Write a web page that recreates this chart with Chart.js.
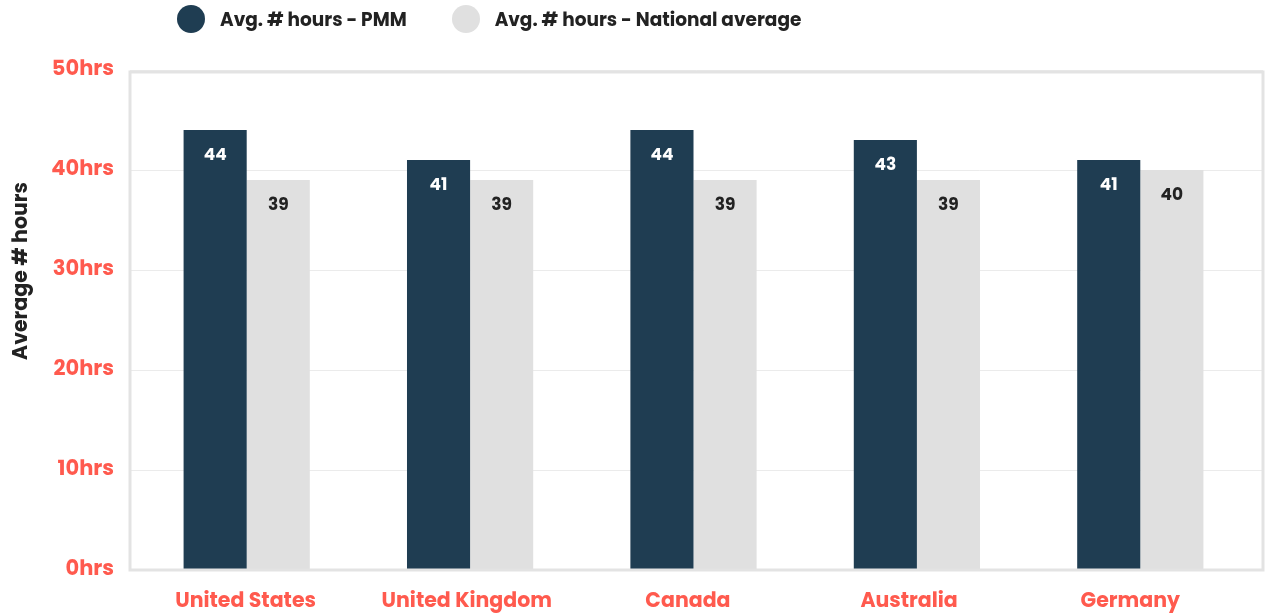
<!DOCTYPE html>
<html>
<head>
<meta charset="utf-8">
<script src="https://cdn.jsdelivr.net/npm/chart.js@4"></script>
<style>
  body { margin: 0; background: #fff; font-family: Poppins, Inter, sans-serif; }
  #wrap { position: relative; width: 1268px; height: 613px; }
  #legend { position: absolute; top: 5px; left: 177px; display: flex; align-items: center; font-weight: 700; font-size: 18.5px; color: #222; }
  .item { display: flex; align-items: center; margin-right: 45px; }
  .dot { width: 28px; height: 28px; border-radius: 50%; margin-right: 15px; }
</style>
</head>
<body>
<div id="wrap">
  <div id="legend"></div>
  <canvas id="chart"></canvas>
</div>
<script>
const categories = ['United States', 'United Kingdom', 'Canada', 'Australia', 'Germany'];
const pmmHours = [44, 41, 44, 43, 41];
const nationalHours = [39, 39, 39, 39, 40];
const seriesNames = ['Avg. # hours - PMM', 'Avg. # hours - National average'];
const tickValues = [0, 10, 20, 30, 40, 50];
const axisTitle = 'Average # hours';

const darkBlue = '#1f3d52';
const lightGray = '#e0e0e0';
const coral = '#ff5a4e';
const fontFamily = 'Poppins, Inter, sans-serif';

// simple legend above the chart
const legend = document.getElementById('legend');
[[seriesNames[0], darkBlue], [seriesNames[1], lightGray]].forEach(function(s) {
    const item = document.createElement('div');
    item.className = 'item';
    item.innerHTML = '<span class="dot" style="background:' + s[1] + '"></span>' + s[0];
    legend.appendChild(item);
});

// the box is a bit wider than the category area in the original
function boxEdges(chart) {
    const a = chart.chartArea;
    return { left: a.left - 5, right: a.right + 11, top: a.top + 2, bottom: a.bottom };
}

// gridlines + box + rotated axis title + category labels
const frame = {
    id: 'frame',
    beforeDatasetsDraw(chart) {
        const ctx = chart.ctx;
        const b = boxEdges(chart);
        const y = chart.scales.y;
        ctx.save();
        ctx.strokeStyle = '#ebebeb';
        ctx.lineWidth = 1;
        tickValues.forEach(function(v) {
            const py = Math.round(y.getPixelForValue(v)) + 0.5;
            ctx.beginPath();
            ctx.moveTo(b.left, py);
            ctx.lineTo(b.right, py);
            ctx.stroke();
        });
        ctx.restore();
    },
    afterDraw(chart) {
        const ctx = chart.ctx;
        const a = chart.chartArea;
        const b = boxEdges(chart);
        const x = chart.scales.x;
        ctx.save();
        ctx.strokeStyle = '#e3e3e3';
        ctx.lineWidth = 3;
        ctx.strokeRect(b.left, b.top, b.right - b.left, b.bottom - b.top);

        // category labels sit slightly tighter than the bars
        ctx.fillStyle = coral;
        ctx.font = 'bold 20.5px ' + fontFamily;
        ctx.textAlign = 'center';
        ctx.textBaseline = 'middle';
        categories.forEach(function(c, i) {
            const px = a.left + (x.getPixelForValue(i) - a.left) * 0.99;
            ctx.fillText(c, px, a.bottom + 32);
        });

        ctx.translate(22, 271);
        ctx.rotate(-Math.PI / 2);
        ctx.fillStyle = '#222';
        ctx.fillText(axisTitle, 0, 0);
        ctx.restore();
    }
};

// value labels inside the top of each bar
const barLabels = {
    id: 'barLabels',
    afterDatasetsDraw(chart) {
        const ctx = chart.ctx;
        ctx.save();
        ctx.font = 'bold 17px ' + fontFamily;
        ctx.textAlign = 'center';
        ctx.textBaseline = 'middle';
        chart.data.datasets.forEach(function(ds, i) {
            ctx.fillStyle = i === 0 ? '#ffffff' : '#222222';
            chart.getDatasetMeta(i).data.forEach(function(bar, j) {
                ctx.fillText(ds.data[j], bar.x, bar.y + 26);
            });
        });
        ctx.restore();
    }
};

new Chart(document.getElementById('chart'), {
    type: 'bar',
    data: {
        labels: categories,
        datasets: [
            { label: seriesNames[0], data: pmmHours, backgroundColor: darkBlue },
            { label: seriesNames[1], data: nationalHours, backgroundColor: lightGray }
        ]
    },
    options: {
        responsive: true,
        maintainAspectRatio: false,
        animation: false,
        layout: { padding: { top: 70, left: 5, right: 16, bottom: 0 } },
        datasets: { bar: { categoryPercentage: 0.565, barPercentage: 1 } },
        plugins: {
            legend: { display: false },
            tooltip: { enabled: false }
        },
        scales: {
            x: {
                grid: { display: false, drawTicks: false },
                border: { display: false },
                ticks: { display: false },
                afterFit(s) { s.height = 43; }
            },
            y: {
                min: 0,
                max: 50,
                afterBuildTicks(s) { s.ticks = tickValues.map(v => ({ value: v })); },
                grid: { display: false, drawTicks: false },
                border: { display: false },
                ticks: {
                    color: coral,
                    font: { family: fontFamily, size: 21, weight: 'bold' },
                    padding: 21,
                    callback: v => v + 'hrs'
                },
                afterFit(s) { s.width = 130; }
            }
        }
    },
    plugins: [frame, barLabels]
});
</script>
</body>
</html>
